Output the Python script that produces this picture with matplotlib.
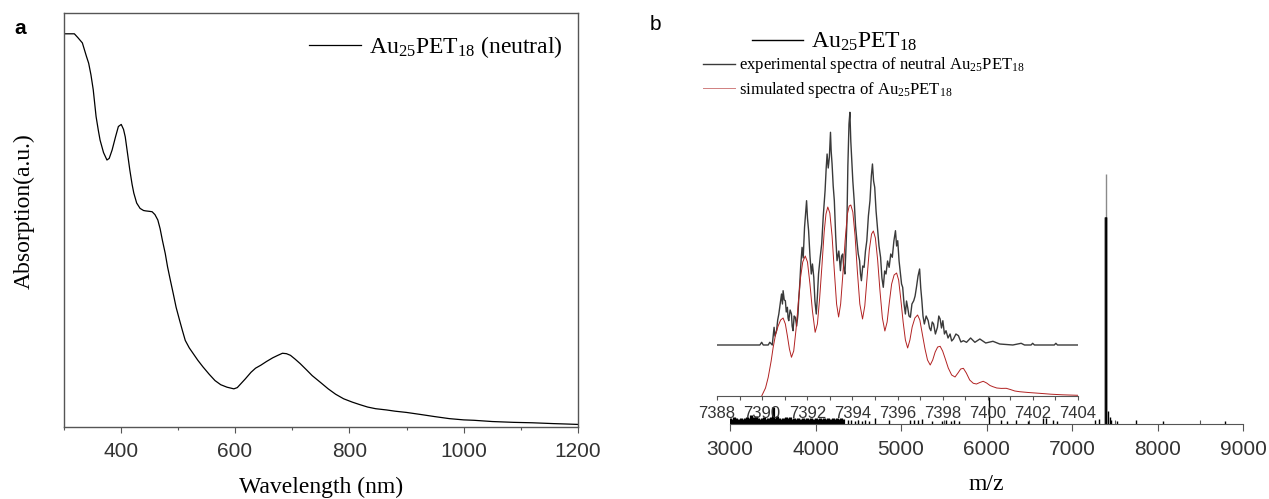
import matplotlib.pyplot as plt
from matplotlib.lines import Line2D

plt.rcParams['font.family'] = 'Liberation Serif'

# ---- panel a: UV-vis absorption ----
wavelength = [300, 319, 325, 333, 340, 344, 348, 352, 357, 361, 364, 370, 376, 380, 385,
              391, 396, 401, 405, 408, 412, 416, 420, 423, 428, 434, 440, 444, 450, 455,
              460, 465, 469, 473, 478, 482, 487, 492, 497, 503, 508, 513, 520, 527, 535,
              544, 555, 565, 575, 586, 598, 604, 610, 618, 628, 636, 645, 655, 666, 675,
              683, 690, 697, 705, 714, 725, 735, 750, 763, 776, 790, 805, 818, 832, 846,
              865, 880, 900, 925, 949, 975, 1000, 1018, 1050, 1088, 1120, 1157, 1180, 1200]
absorption = [0.949, 0.949, 0.940, 0.927, 0.895, 0.878, 0.850, 0.814, 0.749, 0.715, 0.692,
              0.662, 0.644, 0.648, 0.668, 0.700, 0.725, 0.730, 0.718, 0.700, 0.660, 0.620,
              0.585, 0.564, 0.540, 0.527, 0.522, 0.521, 0.520, 0.519, 0.512, 0.499, 0.478,
              0.450, 0.418, 0.386, 0.353, 0.321, 0.288, 0.257, 0.232, 0.208, 0.190, 0.176,
              0.160, 0.144, 0.126, 0.111, 0.101, 0.095, 0.091, 0.094, 0.103, 0.115, 0.131,
              0.141, 0.148, 0.157, 0.166, 0.172, 0.177, 0.176, 0.172, 0.163, 0.152, 0.137,
              0.123, 0.106, 0.091, 0.078, 0.067, 0.059, 0.053, 0.047, 0.043, 0.040, 0.037,
              0.034, 0.029, 0.024, 0.019, 0.016, 0.015, 0.012, 0.010, 0.009, 0.007, 0.006,
              0.005]
wl_major = [400, 600, 800, 1000, 1200]
wl_minor = [300, 500, 700, 900, 1100]

# ---- panel b: mass spectrum, full range ----
noise_mz = list(range(3000, 4326, 25))
noise_int = [2.4, 2.0, 2.8, 2.4, 2.0, 2.4, 2.0, 2.4, 2.8, 2.4, 3.6, 2.8, 3.2, 2.4, 2.0,
             2.4, 2.8, 2.0, 2.4, 2.8, 6.8, 2.4, 3.2, 2.4, 2.0, 2.4, 2.8, 2.4, 2.8, 2.0,
             2.4, 2.0, 2.4, 2.0, 2.4, 2.0, 2.4, 2.0, 2.4, 2.0, 2.4, 2.0, 2.4, 2.0, 2.4,
             2.0, 2.4, 2.0, 2.4, 2.0, 2.4, 2.0, 2.4, 2.0]
peak_mz = [4380, 4420, 4460, 4500, 4540, 4580, 4620, 4700, 4860, 5100, 5150, 5200, 5250,
           5360, 5480, 5530, 5580, 5620, 5680, 6030, 6170, 6240, 6340, 6490, 6660, 6700,
           6780, 6820, 7270, 7320, 7386, 7390, 7394, 7398, 7402, 7416, 7440, 7460, 7526,
           7750, 8060, 8790]
peak_int = [1.6, 1.6, 1.2, 1.6, 1.2, 1.6, 1.2, 2.4, 1.6, 1.6, 1.6, 1.6, 2.0,
            1.2, 1.2, 1.6, 1.2, 1.6, 1.2, 10.8, 1.6, 1.2, 1.6, 1.2, 2.4, 2.4,
            1.6, 1.2, 1.6, 2.0, 83, 83, 100, 83, 83, 5.2, 3.0, 1.6, 1.2,
            1.6, 1.2, 1.2]
mz_major = [3000, 4000, 5000, 6000, 7000, 8000, 9000]
mz_minor = [3500, 4500, 5500, 6500, 7500, 8500]

# ---- panel b inset: isotope pattern ----
exp_mz = [7388.00, 7389.90, 7389.98, 7390.05, 7390.27, 7390.34, 7390.45, 7390.53, 7390.57, 7390.64,
          7390.69, 7390.74, 7390.80, 7390.86, 7390.90, 7390.93, 7390.98, 7391.03, 7391.07, 7391.12,
          7391.15, 7391.18, 7391.24, 7391.30, 7391.33, 7391.37, 7391.42, 7391.47, 7391.53, 7391.59,
          7391.62, 7391.66, 7391.71, 7391.77, 7391.82, 7391.88, 7391.92, 7391.97, 7392.01, 7392.06,
          7392.12, 7392.18, 7392.23, 7392.29, 7392.34, 7392.40, 7392.45, 7392.50, 7392.57, 7392.64,
          7392.71, 7392.79, 7392.84, 7392.88, 7392.93, 7392.98, 7393.03, 7393.06, 7393.10, 7393.15,
          7393.20, 7393.26, 7393.32, 7393.40, 7393.47, 7393.52, 7393.57, 7393.62, 7393.67, 7393.72,
          7393.76, 7393.80, 7393.85, 7393.89, 7393.93, 7393.96, 7394.02, 7394.08, 7394.14, 7394.20,
          7394.26, 7394.32, 7394.36, 7394.40, 7394.46, 7394.52, 7394.58, 7394.64, 7394.71, 7394.78,
          7394.84, 7394.89, 7394.94, 7394.99, 7395.05, 7395.11, 7395.18, 7395.25, 7395.31, 7395.37,
          7395.43, 7395.49, 7395.56, 7395.63, 7395.70, 7395.77, 7395.84, 7395.91, 7395.96, 7396.01,
          7396.07, 7396.13, 7396.18, 7396.23, 7396.29, 7396.35, 7396.40, 7396.45, 7396.51, 7396.57,
          7396.64, 7396.72, 7396.78, 7396.84, 7396.91, 7396.98, 7397.03, 7397.08, 7397.13, 7397.19,
          7397.27, 7397.36, 7397.42, 7397.48, 7397.54, 7397.60, 7397.68, 7397.77, 7397.83, 7397.89,
          7397.95, 7398.01, 7398.08, 7398.15, 7398.24, 7398.33, 7398.40, 7398.48, 7398.59, 7398.70,
          7398.81, 7398.92, 7399.06, 7399.24, 7399.43, 7399.65, 7399.91, 7400.23, 7400.53, 7401.11,
          7401.48, 7401.63, 7401.92, 7401.99, 7402.07, 7402.95, 7403.02, 7403.09, 7404.00]
exp_int = [51.0, 51.0, 53.7, 51.0, 51.0, 53.7, 51.0, 68.7, 60.0, 65.3,
           76.0, 82.0, 92.0, 102.0, 92.0, 105.3, 96.0, 95.3, 84.0, 88.7,
           78.0, 75.3, 86.0, 82.0, 70.0, 65.3, 80.0, 78.7, 70.0, 82.0,
           96.0, 108.7, 130.0, 148.7, 138.0, 168.7, 180.0, 195.3, 178.0, 165.3,
           140.0, 122.0, 132.0, 118.7, 95.0, 82.0, 100.0, 122.0, 138.0, 152.0,
           180.0, 205.3, 228.0, 242.0, 228.0, 238.7, 263.7, 245.0, 232.0, 210.0,
           195.3, 160.0, 135.3, 145.0, 125.3, 140.0, 142.0, 128.0, 122.0, 150.0,
           175.3, 230.0, 272.0, 283.7, 255.0, 242.0, 215.0, 195.3, 170.0, 155.3,
           142.0, 135.3, 122.0, 115.3, 130.0, 128.7, 145.0, 155.3, 180.0, 195.3,
           220.0, 232.0, 215.0, 208.7, 185.0, 168.7, 150.0, 138.7, 118.0, 108.7,
           125.0, 122.0, 135.0, 128.7, 142.0, 138.7, 155.0, 165.3, 150.0, 155.3,
           135.0, 122.0, 112.0, 108.7, 92.0, 82.0, 95.0, 88.7, 80.0, 78.7,
           92.0, 95.3, 100.0, 108.7, 120.0, 127.0, 108.0, 95.3, 80.0, 72.0,
           80.0, 75.3, 68.0, 65.3, 74.0, 72.0, 62.0, 68.7, 80.0, 77.0,
           68.0, 75.3, 62.0, 65.3, 58.0, 62.0, 55.0, 57.0, 62.0, 60.3,
           54.0, 55.3, 53.7, 58.0, 53.7, 57.0, 53.0, 54.7, 52.0, 51.0,
           52.7, 51.0, 51.0, 52.7, 51.0, 51.0, 52.7, 51.0, 51.0]
sim_mz = [7389.98, 7390.15, 7390.27, 7390.40, 7390.49, 7390.60, 7390.71, 7390.82, 7390.93, 7391.03,
          7391.12, 7391.21, 7391.30, 7391.40, 7391.50, 7391.60, 7391.70, 7391.80, 7391.91, 7392.01,
          7392.12, 7392.23, 7392.35, 7392.45, 7392.55, 7392.65, 7392.75, 7392.83, 7392.91, 7393.00,
          7393.10, 7393.20, 7393.30, 7393.39, 7393.48, 7393.58, 7393.68, 7393.78, 7393.86, 7393.93,
          7394.02, 7394.12, 7394.22, 7394.33, 7394.45, 7394.55, 7394.65, 7394.75, 7394.85, 7394.93,
          7395.02, 7395.12, 7395.22, 7395.33, 7395.44, 7395.54, 7395.64, 7395.74, 7395.85, 7395.96,
          7396.05, 7396.15, 7396.25, 7396.35, 7396.45, 7396.55, 7396.65, 7396.77, 7396.89, 7396.99,
          7397.10, 7397.22, 7397.33, 7397.45, 7397.56, 7397.67, 7397.78, 7397.89, 7398.00, 7398.12,
          7398.25, 7398.40, 7398.55, 7398.68, 7398.80, 7398.92, 7399.05, 7399.20, 7399.36, 7399.50,
          7399.65, 7399.80, 7399.95, 7400.10, 7400.23, 7400.40, 7400.60, 7400.82, 7401.00, 7401.20,
          7401.41, 7401.80, 7402.29, 7402.80, 7403.30, 7404.00]
sim_int = [0.0, 8.0, 18.7, 35.0, 48.7, 62.0, 70.0, 76.0, 78.0, 72.0,
           60.0, 47.0, 38.7, 45.0, 66.0, 92.0, 118.0, 134.0, 140.0, 134.0,
           112.0, 85.0, 63.7, 72.0, 98.0, 130.0, 164.0, 182.0, 189.0, 183.0,
           160.0, 125.0, 92.0, 79.0, 92.0, 122.0, 156.0, 182.0, 190.0, 191.0,
           184.0, 160.0, 125.0, 92.0, 77.0, 90.0, 118.0, 146.0, 162.0, 165.0,
           158.0, 136.0, 106.0, 78.0, 65.0, 74.0, 94.0, 112.0, 121.0, 123.0,
           116.0, 96.0, 74.0, 56.0, 48.0, 56.0, 69.0, 78.0, 81.0, 76.0,
           62.0, 47.0, 36.0, 31.0, 36.0, 44.0, 49.0, 49.7, 45.0, 37.0,
           28.0, 21.0, 19.0, 23.0, 27.0, 27.7, 23.0, 16.0, 12.7, 12.0,
           13.5, 14.7, 13.0, 10.5, 9.3, 8.0, 7.6, 7.7, 6.5, 5.0,
           4.3, 3.5, 2.7, 1.8, 1.2, 0.7]
inset_major = [7388, 7390, 7392, 7394, 7396, 7398, 7400, 7402, 7404]
inset_minor = [7389, 7391, 7393, 7395, 7397, 7399, 7401, 7403]

W, H = 1269, 499
fig = plt.figure(figsize=(W / 100, H / 100), dpi=100)

spine_col = '#555555'
tick_txt = '#333333'

# panel a
ax_a = fig.add_axes([63.5 / W, (H - 426.5) / H, 514.5 / W, 413.8 / H])
ax_a.plot(wavelength, absorption, color='black', lw=0.9,
          label=r'Au$\mathregular{_{25}}$PET$\mathregular{_{18}}$ (neutral)')
ax_a.set_xlim(300, 1200)
ax_a.set_ylim(0, 1)
ax_a.set_xticks(wl_major)
ax_a.set_xticks(wl_minor, minor=True)
ax_a.set_yticks([])
for s in ax_a.spines.values():
    s.set_color(spine_col)
    s.set_linewidth(1)
ax_a.tick_params(axis='x', which='both', direction='out', color=spine_col, width=0.8,
                 labelsize=15, labelcolor=tick_txt, labelfontfamily='Liberation Sans', pad=7)
ax_a.tick_params(axis='x', which='major', length=4.5)
ax_a.tick_params(axis='x', which='minor', length=2.5)
ax_a.set_xlabel('Wavelength (nm)', fontsize=17)
ax_a.xaxis.set_label_coords(0.5, (426.5 - 487) / 413.8)
ax_a.xaxis.label.set_va('center')
ax_a.set_ylabel('Absorption(a.u.)', fontsize=17)
ax_a.yaxis.set_label_coords((23.7 - 63.5) / 514.5, 0.52)
ax_a.yaxis.label.set_va('center')
ax_a.legend(loc='center right', bbox_to_anchor=(563 / W, (H - 47) / H), bbox_transform=fig.transFigure,
            frameon=False, fontsize=17, handlelength=2.2, handletextpad=0.34, borderpad=0, borderaxespad=0)

# panel b main spectrum
ax_m = fig.add_axes([730 / W, (H - 424) / H, 513 / W, 250 / H])
ax_m.patch.set_visible(False)
ax_m.vlines(noise_mz, 0, noise_int, color='black', lw=2.3)
stick_cols = ['#8a8a8a' if v == max(peak_int) else 'black' for v in peak_int]
ax_m.vlines(peak_mz, 0, peak_int, colors=stick_cols, lw=1.0)
ax_m.set_xlim(3000, 9000)
ax_m.set_ylim(0, 100)
ax_m.set_xticks(mz_major)
ax_m.set_xticks(mz_minor, minor=True)
ax_m.set_yticks([])
for k in ['left', 'right', 'top']:
    ax_m.spines[k].set_visible(False)
ax_m.spines['bottom'].set_color(spine_col)
ax_m.tick_params(axis='x', which='major', direction='out', length=5, width=0.8, color=spine_col,
                 labelsize=15, labelcolor=tick_txt, labelfontfamily='Liberation Sans', pad=6.5)
ax_m.tick_params(axis='x', which='minor', direction='in', length=3, width=0.8, color=spine_col)
ax_m.set_xlabel('m/z', fontsize=17)
ax_m.xaxis.set_label_coords(0.5, (424 - 485) / 250)
ax_m.xaxis.label.set_va('center')
ax_m.legend(handles=[Line2D([], [], color='black', lw=1)],
            labels=[r'Au$\mathregular{_{25}}$PET$\mathregular{_{18}}$'],
            loc='center left', bbox_to_anchor=(751.7 / W, (H - 42) / H), bbox_transform=fig.transFigure,
            frameon=False, fontsize=17, handlelength=2.16, handletextpad=0.34, borderpad=0, borderaxespad=0)

# panel b inset
ax_in = fig.add_axes([717 / W, (H - 396) / H, 361 / W, 300 / H])
ax_in.patch.set_visible(False)
ax_in.plot(exp_mz, exp_int, color='#3a3a3a', lw=1.0,
           label=r'experimental spectra of neutral Au$\mathregular{_{25}}$PET$\mathregular{_{18}}$')
ax_in.plot(sim_mz, sim_int, color='#b22222', lw=0.7,
           label=r'simulated spectra of Au$\mathregular{_{25}}$PET$\mathregular{_{18}}$')
ax_in.set_xlim(7388, 7404)
ax_in.set_ylim(0, 300)
ax_in.set_xticks(inset_major)
ax_in.set_xticks(inset_minor, minor=True)
ax_in.set_yticks([])
for k in ['left', 'right', 'top']:
    ax_in.spines[k].set_visible(False)
ax_in.spines['bottom'].set_color(spine_col)
ax_in.tick_params(axis='x', which='both', direction='out', length=3, width=0.8, color=spine_col,
                  labelsize=12, labelcolor=tick_txt, labelfontfamily='Liberation Sans', pad=4)
leg = ax_in.legend(loc='center left', bbox_to_anchor=(702.7 / W, (H - 77.5) / H), bbox_transform=fig.transFigure,
                   frameon=False, fontsize=12, handlelength=1.95, handletextpad=0.2, labelspacing=0.25,
                   borderpad=0, borderaxespad=0)
leg.get_lines()[1].set_color('#d08080')

fig.text(20 / W, 1 - 28 / H, 'a', fontsize=15, family='Liberation Sans', weight='bold', ha='center', va='center')
fig.text(655 / W, 1 - 25 / H, 'b', fontsize=15, family='Liberation Sans', ha='center', va='center')

fig.savefig('out.png', dpi=100)
